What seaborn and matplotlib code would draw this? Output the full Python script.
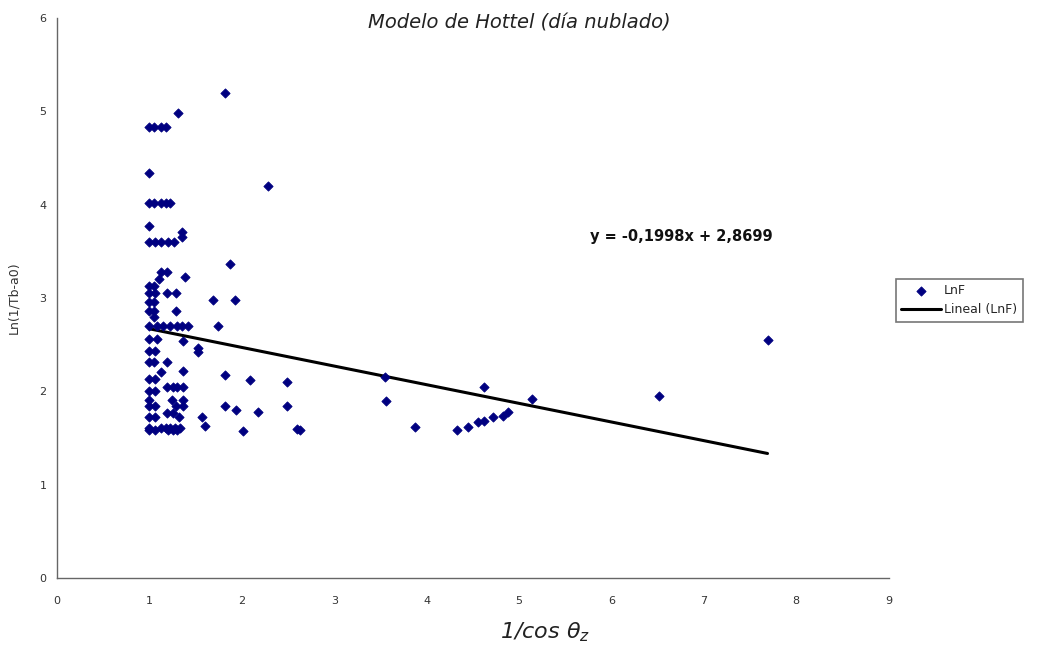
import matplotlib
matplotlib.use("Agg")
import matplotlib.pyplot as plt
import seaborn as sns
import numpy as np
import pandas as pd

# ---- data ----
x_vals = [1.82, 1.31, 1.00, 1.05, 1.13, 1.18,
          1.00,
          1.00, 1.05, 1.13, 1.18, 1.22,
          2.28,
          1.00, 1.35, 1.35,
          1.00, 1.06, 1.13, 1.20, 1.27,
          1.87,
          1.12, 1.19, 1.38, 1.10,
          1.00, 1.05,
          1.00, 1.06, 1.19, 1.29,
          1.69, 1.93,
          1.00, 1.05,
          1.00, 1.05, 1.29,
          1.05,
          1.74,
          1.00, 1.08, 1.15, 1.22, 1.30, 1.35, 1.42,
          1.00, 1.08, 1.36,
          1.53, 1.53,
          1.00, 1.06,
          1.00, 1.05, 1.19,
          1.13, 1.36,
          1.82, 2.09, 2.49,
          1.00, 1.06,
          1.19, 1.25, 1.30, 1.36,
          1.00, 1.06,
          1.00, 1.24, 1.36,
          1.00, 1.06, 1.29, 1.36,
          1.82, 1.94, 2.17, 2.49,
          1.19, 1.26,
          1.00, 1.06, 1.32,
          1.57, 1.60,
          1.00, 1.13, 1.18, 1.22, 1.28, 1.33,
          1.00, 1.06, 1.20, 1.25, 1.30,
          2.01, 2.63, 2.60,
          3.55, 3.56, 3.87, 4.33, 4.45, 4.56, 4.62, 4.62, 4.72, 4.83, 4.88, 5.14, 6.52, 7.69]
y_vals = [5.20, 4.98, 4.83, 4.83, 4.83, 4.83,
          4.34,
          4.02, 4.02, 4.02, 4.02, 4.02,
          4.20,
          3.77, 3.71, 3.65,
          3.60, 3.60, 3.60, 3.60, 3.60,
          3.36,
          3.28, 3.28, 3.23, 3.20,
          3.13, 3.13,
          3.05, 3.05, 3.05, 3.05,
          2.98, 2.98,
          2.96, 2.96,
          2.86, 2.86, 2.86,
          2.80,
          2.70,
          2.70, 2.70, 2.70, 2.70, 2.70, 2.70, 2.70,
          2.56, 2.56, 2.54,
          2.46, 2.42,
          2.43, 2.43,
          2.31, 2.31, 2.31,
          2.21, 2.22,
          2.18, 2.12, 2.10,
          2.13, 2.13,
          2.05, 2.05, 2.05, 2.05,
          2.00, 2.00,
          1.91, 1.91, 1.91,
          1.84, 1.84, 1.84, 1.84,
          1.84, 1.80, 1.78, 1.84,
          1.77, 1.77,
          1.72, 1.72, 1.72,
          1.72, 1.63,
          1.61, 1.61, 1.61, 1.61, 1.61, 1.61,
          1.58, 1.58, 1.58, 1.58, 1.58,
          1.57, 1.58, 1.60,
          2.15, 1.90, 1.62, 1.58, 1.62, 1.67, 1.68, 2.05, 1.72, 1.73, 1.78, 1.92, 1.95, 2.55]
slope = -0.1998
intercept = 2.8699
x_ticks = [0, 1, 2, 3, 4, 5, 6, 7, 8, 9]
y_ticks = [0, 1, 2, 3, 4, 5, 6]

df = pd.DataFrame({"x": x_vals, "y": y_vals})
x_fit = np.array([min(x_vals), max(x_vals)])
fit_df = pd.DataFrame({"x": x_fit, "y": slope * x_fit + intercept})

sns.set_style("white")
fig = plt.figure(figsize=(10.38, 6.5), dpi=100)
ax = fig.add_axes([0.055, 0.111, 0.801, 0.861])

sns.scatterplot(data=df, x="x", y="y", ax=ax, marker="D", s=22,
                color="#000080", edgecolor="#000080", linewidth=0.6,
                label="LnF", zorder=3)
sns.lineplot(data=fit_df, x="x", y="y", ax=ax, color="black", linewidth=2.2,
             label="Lineal (LnF)", zorder=2)

ax.set_xlim(0, 9)
ax.set_ylim(0, 6)
ax.set_xticks(x_ticks)
ax.set_yticks(y_ticks)
ax.tick_params(axis="both", direction="out", length=4, width=0.8, colors="#555555",
               labelsize=8, labelcolor="#333333")
ax.tick_params(axis="x", pad=9)
for s in ["top", "right"]:
    ax.spines[s].set_visible(False)
for s in ["left", "bottom"]:
    ax.spines[s].set_color("#666666")
    ax.spines[s].set_linewidth(1.0)
ax.set_xlabel("")
ax.set_ylabel("Ln(1/Tb-a0)", fontsize=9, color="#333333", labelpad=14)

ax.text(5.77, 3.66, "y = -0,1998x + 2,8699", fontsize=10.5, fontweight="bold",
        va="center", ha="left", color="#111111")

fig.text(0.50, 0.964, "Modelo de Hottel (día nublado)", fontsize=14, style="italic",
         ha="center", va="center", color="#222222")
fig.text(0.525, 0.027, r"1/cos $\mathit{\theta_z}$", fontsize=16, style="italic",
         ha="center", va="center", color="#222222")

leg = ax.legend(loc="center left", bbox_to_anchor=(0.863, 0.538),
                bbox_transform=fig.transFigure, fontsize=9, frameon=True,
                fancybox=False, edgecolor="#555555", handlelength=3.2,
                borderpad=0.45, labelspacing=0.45, handletextpad=0.2,
                borderaxespad=0.0)
leg.get_frame().set_linewidth(1.2)

fig.savefig("out.png", dpi=100)
